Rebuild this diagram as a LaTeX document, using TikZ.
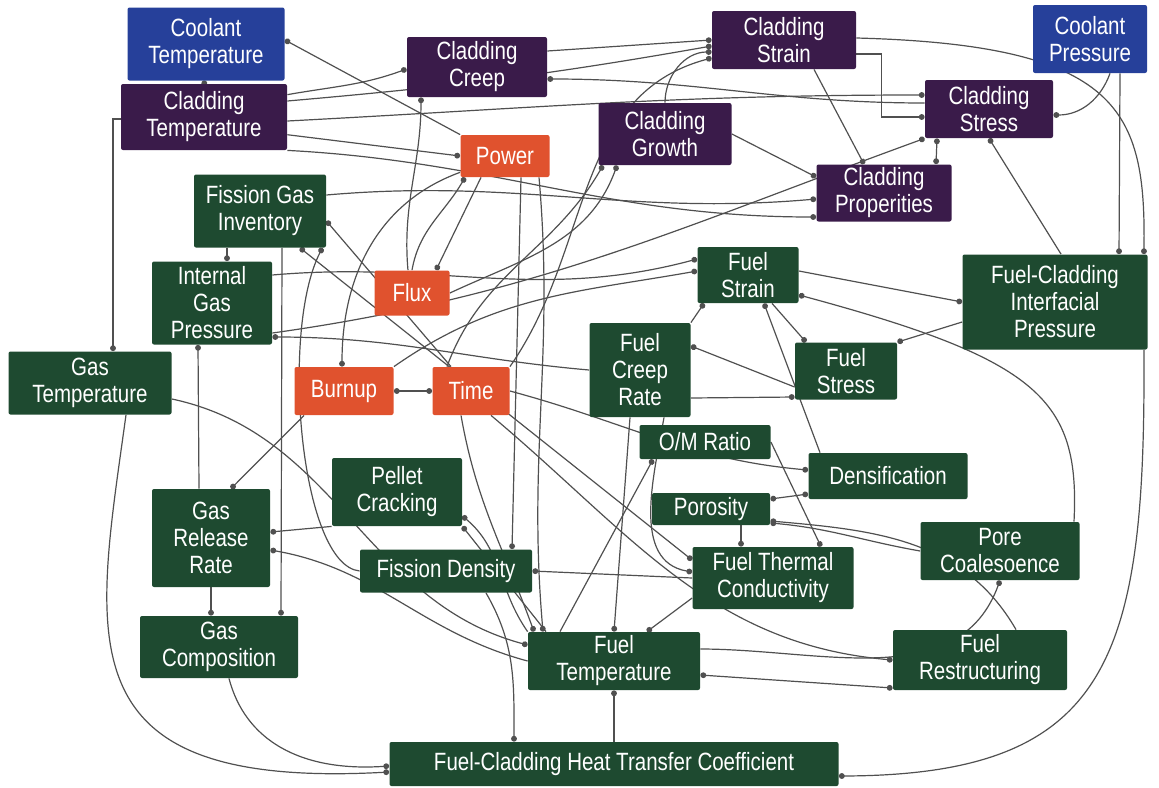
\documentclass[tikz,border=0pt]{standalone}
\usepackage{fontspec}
\setmainfont{Liberation Sans}[FakeStretch=0.82]
\usetikzlibrary{arrows.meta,calc,backgrounds}
\definecolor{coolblue}{HTML}{26409A}
\definecolor{cladpurple}{HTML}{3A1B4A}
\definecolor{drvorange}{HTML}{E0522E}
\definecolor{fuelgreen}{HTML}{1E4A30}
\definecolor{linkgray}{HTML}{505050}
\tikzset{
  base/.style={font=\fontsize{12.5}{13.5}\selectfont,text=white,align=center,rounded corners=1pt,inner sep=0pt},
  coolant/.style={base,fill=coolblue},
  cladding/.style={base,fill=cladpurple},
  driver/.style={base,fill=drvorange},
  fuel/.style={base,fill=fuelgreen},
  size/.style 2 args={minimum width=#1*0.5pt,minimum height=#2*0.5pt},
  link/.style={draw=linkgray,line width=0.6pt,-{Circle[length=2.9pt]}},
  mutual/.style={link,{Circle[length=2.9pt]}-{Circle[length=2.9pt]}}
}

\begin{document}
\begin{tikzpicture}[x=0.5pt,y=-0.5pt]
\useasboundingbox (0,0) rectangle (1159,787);

% coolant and cladding
\node[coolant,size={157}{73}] (ctemp) at (206,44) {Coolant\\Temperature};
\node[cladding,size={166}{66}] (cladtemp) at (204,117) {Cladding\\Temperature};
\node[cladding,size={140}{60}] (cladcreep) at (477,67) {Cladding\\Creep};
\node[cladding,size={144}{58}] (cladstrain) at (784,40) {Cladding\\Strain};
\node[coolant,size={114}{68}] (coolpress) at (1090,39) {Coolant\\Pressure};
\node[cladding,size={128}{58}] (cladstress) at (989,109) {Cladding\\Stress};
\node[cladding,size={133}{62}] (cladgrowth) at (665,134) {Cladding\\Growth};
\node[cladding,size={135}{57}] (cladprop) at (884,193) {Cladding\\Properities};

% drivers
\node[driver,size={89}{42}] (power) at (505,156) {Power};
\node[driver,size={75}{45}] (flux) at (412,293) {Flux};
\node[driver,size={99}{48}] (burnup) at (344,391) {Burnup};
\node[driver,size={77}{48}] (time) at (471,391) {Time};

% fuel
\node[fuel,size={132}{73}] (fgi) at (260,211) {Fission Gas\\Inventory};
\node[fuel,size={120}{83}] (igp) at (212,303) {Internal\\Gas\\Pressure};
\node[fuel,size={101}{56}] (fstrain) at (748,275) {Fuel\\Strain};
\node[fuel,size={185}{95}] (fcip) at (1055,302) {Fuel-Cladding\\Interfacial\\Pressure};
\node[fuel,size={163}{63}] (gastemp) at (90,383) {Gas\\Temperature};
\node[fuel,size={101}{94}] (fcr) at (640,370) {Fuel\\Creep\\Rate};
\node[fuel,size={102}{57}] (fstress) at (846,371) {Fuel\\Stress};
\node[fuel,size={131}{34}] (omratio) at (705,442) {O/M Ratio};
\node[fuel,size={159}{46}] (densif) at (888,476) {Densification};
\node[fuel,size={118}{32}] (porosity) at (711,509) {Porosity};
\node[fuel,size={159}{58}] (porecoal) at (1000,551) {Pore\\Coalesoence};
\node[fuel,size={161}{62}] (ftc) at (773,578) {Fuel Thermal\\Conductivity};
\node[fuel,size={172}{58}] (ftemp) at (614,661) {Fuel\\Temperature};
\node[fuel,size={174}{60}] (frestr) at (980,660) {Fuel\\Restructuring};
\node[fuel,size={449}{44}] (fchtc) at (614,764) {Fuel-Cladding Heat Transfer Coefficient};
\node[fuel,size={130}{68}] (pellet) at (397,492) {Pellet\\Cracking};
\node[fuel,size={118}{98}] (grr) at (211,538) {Gas\\Release\\Rate};
\node[fuel,size={172}{43}] (fdens) at (446,571) {Fission Density};
\node[fuel,size={158}{62}] (gascomp) at (219,647) {Gas\\Composition};

\begin{pgfonlayer}{background}
% cladding links
\draw[link] (cladtemp.north) -- (ctemp.south);
\draw[link] (power.north west) -- ([yshift=2pt]ctemp.east);
\draw[link] (cladtemp.15) to[out=10,in=200] ([yshift=-1pt]cladcreep.west);
\draw[link] (flux.100) to[out=95,in=-90] ([xshift=-28pt]cladcreep.south);
\draw[link] ([yshift=3pt]cladstress.west) to[out=180,in=0] ([yshift=-6pt]cladcreep.east);
\draw[link] ([yshift=8pt]cladcreep.east) -- (cladstrain.west);
\draw[link] ([yshift=8pt]cladtemp.east) to[out=5,in=190] ([yshift=-3pt]cladstrain.west);
\draw[link] (cladgrowth.north) to[out=90,in=180] ([yshift=-6pt]cladstrain.west);
\draw[link] (time.north east) to[out=55,in=195] ([yshift=-9pt]cladstrain.west);
\draw[link] ([yshift=-7pt]cladstrain.east) -- ++(25,0) |- ([yshift=-4pt]cladstress.west);
\draw[link] ([yshift=1pt]cladstrain.east) .. controls (1120,45) and (1146,110) .. ([xshift=-2pt]fcip.north east);
\draw[link] ([xshift=15pt]cladstrain.south) -- ([xshift=-10pt]cladprop.north);
\draw[link] ([yshift=-2pt]cladtemp.east) to[out=3,in=180] ([yshift=7pt]cladstress.west);
\draw[link] ([xshift=15pt]coolpress.south) -- ([xshift=32pt]fcip.north);
\draw[link] ([xshift=10pt]coolpress.south) to[out=-110,in=0] ([yshift=-3pt]cladstress.east);
\draw[link] ([xshift=3pt]fcip.north) -- (cladstress.south);
\draw[mutual] ([xshift=-26pt]cladstress.south) -- ([xshift=26pt]cladprop.north);
\draw[link] (cladgrowth.east) -- ([yshift=8pt]cladprop.west);
\draw[link] ([yshift=-15pt]igp.east) to[out=8,in=200] (cladstress.south west);
\draw[link] (cladtemp.south east) to[out=-3,in=180] ([yshift=-12pt]cladprop.west);
\draw[link] ([yshift=8pt]fgi.east) to[out=5,in=185] ([yshift=-3pt]cladprop.west);
\draw[link] ([xshift=-12pt]time.north) to[out=70,in=-120] ([xshift=-31pt]cladgrowth.south);
\draw[link] (flux.east) to[out=25,in=-110] ([xshift=-24pt]cladgrowth.south);

% drivers
\draw[link] (cladtemp.-12) -- (power.west);
\draw[link] (flux.north) to[out=80,in=-120] ([xshift=-20pt]power.south);
\draw[link] ([xshift=-12pt]power.south) -- ([xshift=12pt]flux.north);
\draw[link] (power.200) to[out=200,in=90] ([xshift=-1pt]burnup.north);
\draw[mutual] (burnup.east) -- (time.west);
\draw[link] ([xshift=-10pt]time.north) -- ([yshift=-5pt]fgi.east);

% gas
\draw[link] ([xshift=-16.5pt]fgi.south) -- ([xshift=7.5pt]igp.north);
\draw[link] ([xshift=11pt]fgi.south) -- ([xshift=31pt]gascomp.north);
\draw[link] ([yshift=-1pt]cladtemp.west) -| ([xshift=11.5pt]gastemp.north);
\draw[link] ([xshift=-6pt]grr.north) -- ([xshift=-7pt]igp.south);
\draw[link] ([xshift=-20pt]burnup.south) -- ([xshift=10pt]grr.north);
\draw[link] (pellet.south west) -- ([yshift=3pt]grr.east);
\draw[link] (ftemp.west) to[out=165,in=-10] ([yshift=-6pt]grr.east);
\draw[link] (grr.south) -- ([xshift=-4pt]gascomp.north);
\draw[link] ([xshift=5pt]gascomp.south) .. controls (245,740) and (300,772) .. ([yshift=-1pt]fchtc.west);
\draw[link] ([xshift=18pt]gastemp.south) .. controls (95,640) and (60,790) .. ([yshift=-4pt]fchtc.west);
\draw[link] ([yshift=-8pt]gastemp.east) to[out=-12,in=165] ([yshift=8pt]ftemp.west);
\draw[link] (fdens.west) .. controls (300,565) and (280,330) .. ([xshift=-2pt]fgi.south east);
\draw[mutual] ([xshift=20pt]fgi.south) -- ([yshift=9pt]ftc.west);
\draw[link] (fcr.west) to[out=175,in=0] ([yshift=-17pt]igp.east);
\draw[link] ([yshift=14pt]igp.east) to[out=5,in=195] ([yshift=8pt]fstrain.west);
\draw[link] (burnup.north east) to[out=35,in=190] ([yshift=2pt]fstrain.west);

% fuel temperature
\draw[link] ([xshift=8pt]power.south) -- ([xshift=33pt]fdens.north);
\draw[link] ([xshift=17pt]power.south) to[out=-85,in=95] ([xshift=-35.5pt]ftemp.north);
\draw[link] ([xshift=-5pt]time.south) to[out=-80,in=110] ([xshift=-40pt]ftemp.north);
\draw[link] ([xshift=10pt]time.south) to[out=-40,in=175] (frestr.west);
\draw[link] (time.east) to[out=-15,in=175] ([yshift=3pt]densif.west);
\draw[link] ([xshift=12pt]fcr.south) to[out=-100,in=170] ([yshift=3pt]ftc.west);
\draw[link] (ftc.west) -- (fdens.east);
\draw[link] ([xshift=20pt]fdens.south) to[out=-60,in=90] ([xshift=-50pt]fchtc.north);
\draw[link] (fchtc.north) -- (ftemp.south);
\draw[link] ([yshift=6pt]ftemp.east) to[out=0,in=-110] (porecoal.south);
\draw[mutual] ([yshift=-7pt]ftemp.east) -- ([yshift=-14pt]frestr.west);
\draw[link] ([xshift=15pt]porosity.south) -- ([xshift=-16pt]ftc.north);
\draw[link] (omratio.east) -- ([xshift=24pt]ftc.north);
\draw[link] ([xshift=-27pt]ftemp.north) -- ([xshift=-26pt]omratio.south);
\draw[link] ([yshift=-10pt]ftc.west) -- ([xshift=16.5pt]ftemp.north);
\draw[link] ([xshift=-5pt]fcr.south) -- (ftemp.north);
\draw[link] ([xshift=-34pt]ftemp.north) -- (pellet.south east);
\draw[link] (ftemp.north west) to[out=125,in=-40] ([yshift=-12pt]pellet.east);
\draw[link] ([xshift=18pt]frestr.north) to[out=120,in=-5] ([yshift=-6pt]porosity.east);
\draw[mutual] ([yshift=5pt]porosity.east) -- ([yshift=-9pt]densif.west);
\draw[link] (porecoal.west) to[out=170,in=-5] ([yshift=-7pt]porosity.east);

% fuel mechanics
\draw[link] ([yshift=-8pt]fstress.west) -- ([yshift=12pt]fcr.east);
\draw[link] ([yshift=-14pt]fcr.east) -- ([yshift=-13pt]fstress.west);
\draw[link] ([xshift=12pt]fstrain.south) -- ([xshift=-20pt]fstress.north);
\draw[link] ([yshift=2pt]fstrain.east) -- (fcip.west);
\draw[link] ([yshift=-10pt]fcip.west) -- (fstress.north east);
\draw[link] ([xshift=-34pt]densif.north) -- ([xshift=8pt]fstrain.south);
\draw[link] (fcr.north east) -- ([xshift=-22pt]fstrain.south);
\draw[link] ([xshift=-2pt]fcip.south east) .. controls (1146,660) and (1110,775) .. ([yshift=-6pt]fchtc.east);
\draw[link] ([xshift=37pt]porecoal.north) .. controls (1080,400) and (1040,360) .. ([yshift=-10pt]fstrain.east);
\end{pgfonlayer}
\end{tikzpicture}
\end{document}
